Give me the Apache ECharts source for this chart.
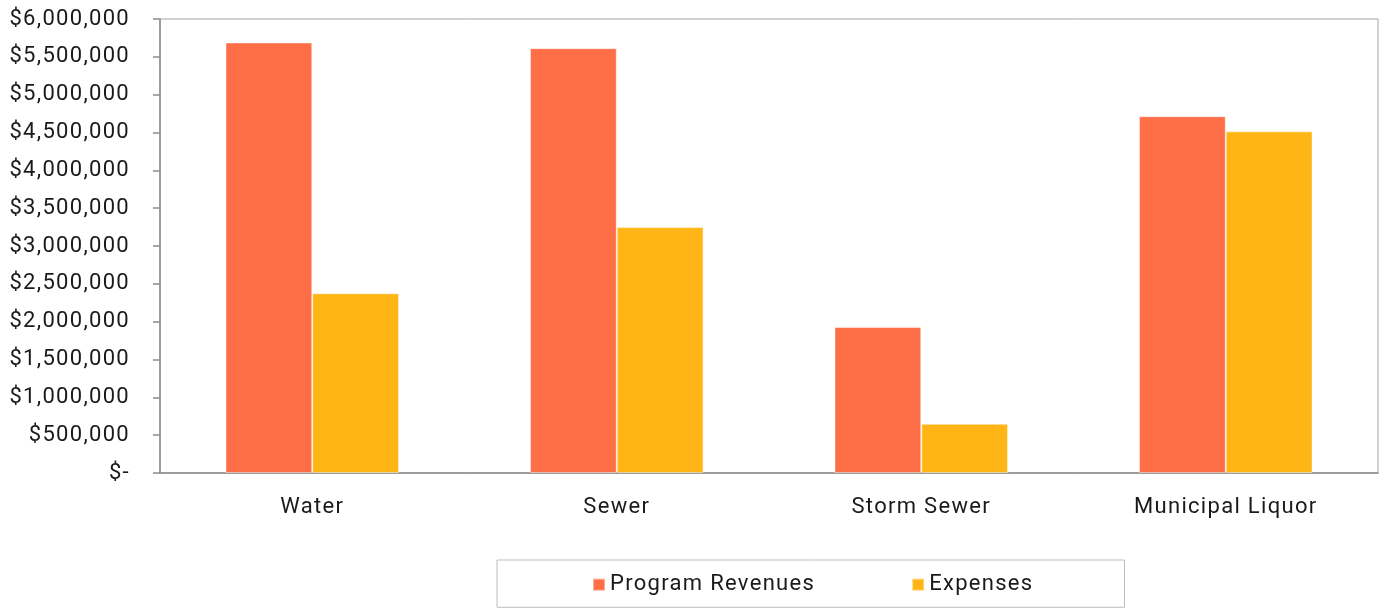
<!DOCTYPE html>
<html>
<head>
<meta charset="utf-8">
<script src="https://cdn.jsdelivr.net/npm/echarts@6/dist/echarts.min.js"></script>
<style>
  html, body { margin: 0; padding: 0; background: #fff; }
  #chart { width: 1380px; height: 609px; }
</style>
</head>
<body>
<div id="chart"></div>
<script>
// Program revenues vs. expenses by enterprise fund
const categories = ['Water', 'Sewer', 'Storm Sewer', 'Municipal Liquor'];
const programRevenues = [5690000, 5615000, 1930000, 4715000];
const expenses = [2375000, 3250000, 650000, 4515000];
const seriesNames = ['Program Revenues', 'Expenses'];

// Slightly tracked-out lettering for all chart text
const TRACKING = '1.3px';
const proto = CanvasRenderingContext2D.prototype;
const origFillText = proto.fillText;
const origMeasureText = proto.measureText;
proto.fillText = function () { this.letterSpacing = TRACKING; return origFillText.apply(this, arguments); };
proto.measureText = function () { this.letterSpacing = TRACKING; return origMeasureText.apply(this, arguments); };

function money(v) {
  if (v === 0) return '$-';
  return '$' + v.toLocaleString('en-US');
}

const chart = echarts.init(document.getElementById('chart'));
const font = 'Roboto, "Noto Sans", sans-serif';

chart.setOption({
  animation: false,
  grid: {
    left: 160, right: 2, top: 19, bottom: 136,
    show: true, borderColor: '#a6a6a6', borderWidth: 1, backgroundColor: 'transparent'
  },
  legend: {
    data: seriesNames,
    left: 497, top: 560,
    icon: 'rect', itemWidth: 12, itemHeight: 12, itemGap: 96,
    padding: [13, 91, 11, 95],
    borderColor: '#bdbdbd', borderWidth: 1,
    textStyle: { fontFamily: font, fontSize: 22, color: '#1a1a1a' }
  },
  xAxis: {
    type: 'category',
    data: categories,
    axisLine: { lineStyle: { color: '#8c8c8c', width: 1.5 } },
    axisTick: { length: 7, lineStyle: { color: '#8c8c8c', width: 1.5 } },
    axisLabel: { fontFamily: font, fontSize: 22, color: '#1a1a1a', margin: 23 }
  },
  yAxis: {
    type: 'value',
    min: 0, max: 6000000, interval: 500000,
    splitLine: { show: false },
    axisLine: { show: true, lineStyle: { color: '#8c8c8c', width: 1.5 } },
    axisTick: { show: true, length: 7, lineStyle: { color: '#8c8c8c', width: 1.5 } },
    axisLabel: { fontFamily: font, fontSize: 22, color: '#1a1a1a', margin: 30, formatter: money }
  },
  series: [
    {
      name: seriesNames[0], type: 'bar', data: programRevenues,
      barGap: '0%', barCategoryGap: '43%',
      itemStyle: { color: '#ff6f47', borderColor: 'rgba(255,255,255,0.45)', borderWidth: 1 }
    },
    {
      name: seriesNames[1], type: 'bar', data: expenses,
      itemStyle: { color: '#ffb515', borderColor: 'rgba(255,255,255,0.45)', borderWidth: 1 }
    }
  ]
});
</script>
</body>
</html>
